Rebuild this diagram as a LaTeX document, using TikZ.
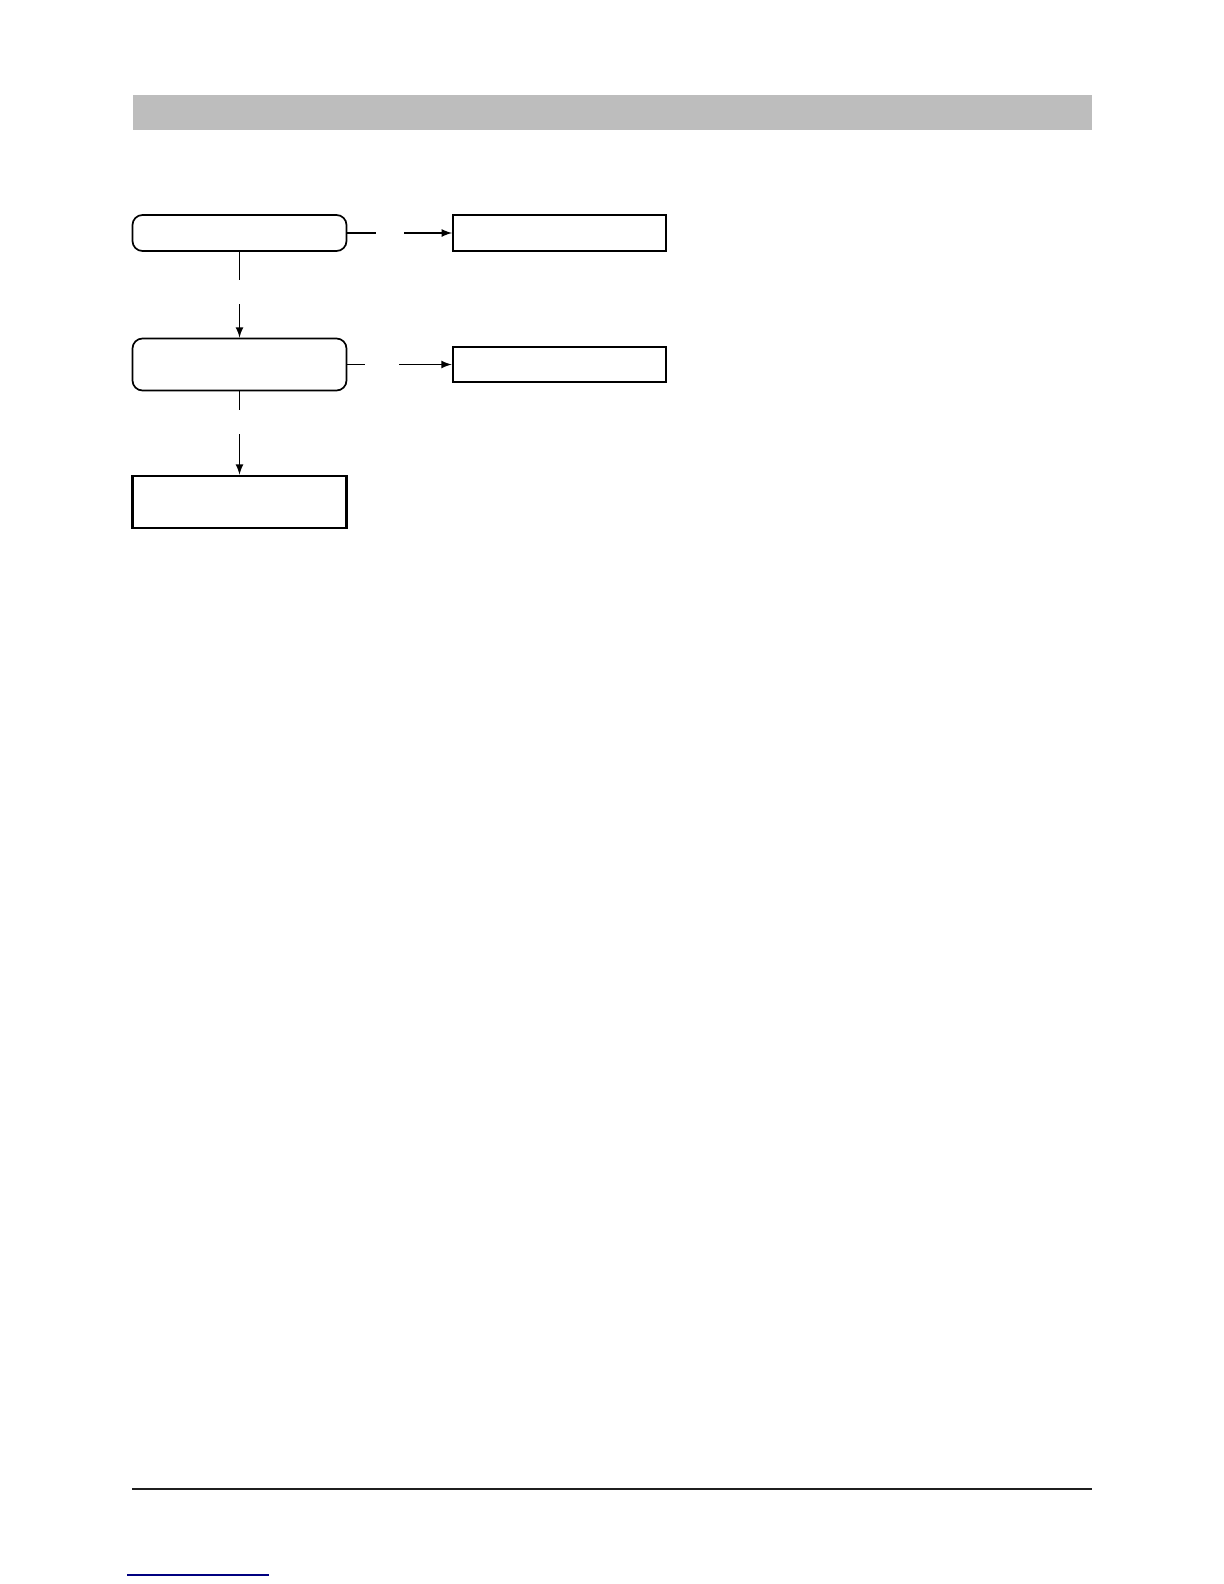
\documentclass[tikz,border=0pt]{standalone}
\usetikzlibrary{positioning}

\begin{document}
\begin{tikzpicture}[x=0.5pt, y=-0.5pt, node distance = 2cm, on grid, >=latex,
	roundbox/.style={draw, rounded corners=5pt, line width=0.85pt, minimum width=107pt, inner sep=0pt},
	sqbox/.style={draw, line width=0.9pt, minimum width=106.5pt, minimum height=18pt, inner sep=0pt},
	link/.style={line width=0.8pt}]
			\useasboundingbox (0,0) rectangle (1224,1584);
			% header band and footer rule
			\fill[black!26] (132.5,95) rectangle (1091.5,130);
			\draw[line width=1pt, black!88] (132,1489) -- (1092,1489);
			\draw[line width=0.6pt, blue!50!black] (127,1575) -- (269,1575);

			\node[roundbox, minimum height=18pt] (0) at (239.5,233) {};
			\node[sqbox, right=160pt of 0] (1) {};
			\node[roundbox, minimum height=26pt, below=65.75pt of 0] (2) {};
			\node[sqbox, line width=1.3pt, minimum height=17.5pt, right=160pt of 2] (3) {};
			\node[sqbox, line width=1.3pt, minimum width=107pt, minimum height=26pt, below=68.75pt of 2] (4) {};

			\coordinate (0r) at (376,233);
			\coordinate (0r') at (404,233);
			\coordinate (0d) at (239.5,280);
			\coordinate (0d') at (239.5,304);
			\coordinate (2r) at (364.5,364.5);
			\coordinate (2r') at (399,364.5);
			\coordinate (2d) at (239.5,410);
			\coordinate (2d') at (239.5,434);

			\draw[link] (0) -- (0r);
			\draw[link, ->] (0r') -- (1);
			\draw[link] (0) -- (0d);
			\draw[link, ->] (0d') -- (2);
			\draw[link] (2) -- (2r);
			\draw[link, ->] (2r') -- (3);
			\draw[link] (2) -- (2d);
			\draw[link, ->] (2d') -- (4);
		\end{tikzpicture}
\end{document}
